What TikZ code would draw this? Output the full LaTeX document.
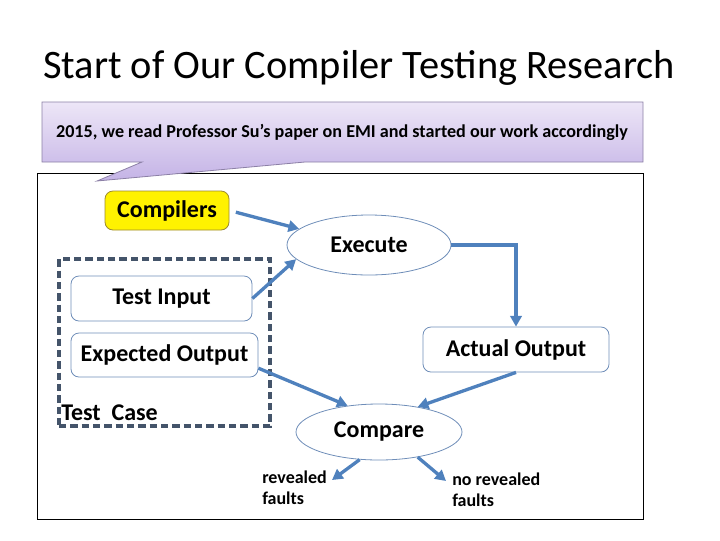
\documentclass[tikz,border=0pt]{standalone}
\usepackage{fontspec}
\setmainfont{Carlito}
\usetikzlibrary{arrows.meta,shapes.geometric,calc}
\definecolor{arrowblue}{HTML}{4F81BD}
\definecolor{nodeedge}{HTML}{6E8DB8}
\definecolor{dashc}{HTML}{44546A}
\definecolor{calltop}{HTML}{EDE6F7}
\definecolor{callbot}{HTML}{C4B3E6}
\definecolor{calledge}{HTML}{8C80A6}
\definecolor{compedge}{HTML}{9C8A2E}
\begin{document}
\begin{tikzpicture}[x=0.75pt,y=-0.75pt,
  box/.style={draw=nodeedge, line width=0.6pt, rounded corners=6pt, inner sep=0pt, font=\bfseries\fontsize{18}{21}\selectfont},
  oval/.style={ellipse, draw=nodeedge, line width=0.6pt, inner sep=0pt, font=\bfseries\fontsize{18}{21}\selectfont},
  flow/.style={draw=arrowblue, line width=2.5pt, -{Triangle[length=8pt,width=8.5pt]}},
  note/.style={font=\bfseries\fontsize{13.5}{15.5}\selectfont, align=left, inner sep=0pt, anchor=north west}
]
\useasboundingbox (0,0) rectangle (720,540);
\node (title) at (359,68) {\fontsize{30.3}{36}\selectfont Start of Our Compiler Testing Research};
\draw[line width=0.75pt] (37,173) rectangle (643,519);
\shadedraw[top color=calltop, bottom color=callbot, draw=calledge, line width=0.6pt]
  (42,102) -- (643,102) -- (643,162) -- (305,162) -- (97,181) -- (142,162) -- (42,162) -- cycle;
\node[font=\bfseries\fontsize{13.6}{16}\selectfont] (callt) at (342,132) {2015, we read Professor Su’s paper on EMI and started our work accordingly};

\node[box, fill=yellow, draw=compedge, minimum width=93pt, minimum height=29.25pt] (comp) at (167,210.5) {Compilers};
\node[oval, minimum width=123pt, minimum height=45pt] (exe) at (369,245) {Execute};
\node[box, minimum width=135.75pt, minimum height=33.75pt] (tin) at (161.5,298.5) {Test Input};
\node[box, minimum width=140.25pt, minimum height=33pt] (exp) at (164.5,355) {Expected Output};
\node[box, minimum width=139.5pt, minimum height=33.75pt] (act) at (516,349.5) {Actual Output};
\node[oval, minimum width=124.5pt, minimum height=42pt] (cmp) at (379,432) {Compare};
\node[draw=dashc, line width=2.5pt, dash pattern=on 5.5pt off 3pt, minimum width=158.25pt, minimum height=125.25pt, inner sep=0pt] (tcase) at (164.5,342.5) {};
\node[font=\bfseries\fontsize{18}{21}\selectfont, anchor=west, inner sep=0pt] (tclabel) at (61,413) {Test\ \ Case};

\node[note] (rev) at (262,471) {revealed\\faults};
\node[note] (nrev) at (452,473) {no revealed\\faults};
\coordinate (revtip) at (332,480);
\coordinate (nrevtip) at (446,481);

\draw[flow, shorten <=5pt] (comp.east) -- (exe.167);
\draw[flow] (tin.east) -- (exe.191);
\draw[flow] (exe.east) -| (act.north);
\draw[flow] (exp.-8) -- (cmp.140);
\draw[flow] (act.south) -- (cmp.33);
\draw[flow] (cmp.235) -- (revtip);
\draw[flow] (cmp.-33) -- (nrevtip);
\end{tikzpicture}
\end{document}
